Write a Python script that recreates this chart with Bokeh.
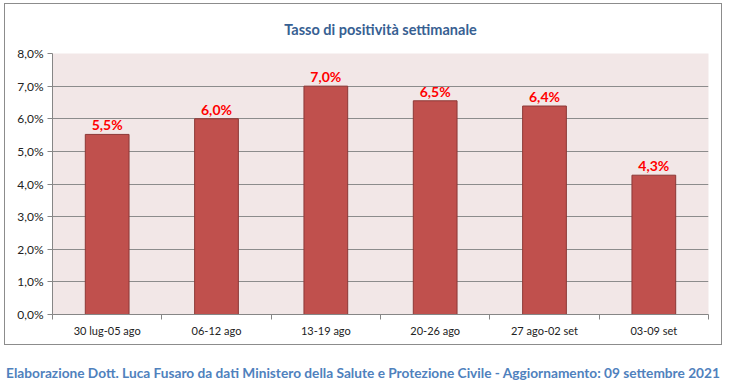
from bokeh.plotting import figure
from bokeh.models import (ColumnDataSource, FixedTicker, CustomJSTickFormatter,
                          Range1d, LabelSet, Div, Title)
from bokeh.layouts import column
from bokeh.core.properties import value
from bokeh.embed import file_html
from bokeh.resources import INLINE

categories = ["30 lug-05 ago", "06-12 ago", "13-19 ago", "20-26 ago", "27 ago-02 set", "03-09 set"]
values = [5.52, 6.0, 7.0, 6.55, 6.39, 4.27]
y_ticks = [0, 1, 2, 3, 4, 5, 6, 7, 8]
title_text = "Tasso di positività settimanale"
footer_text = ("Elaborazione Dott. Luca Fusaro da dati Ministero della Salute e Protezione Civile"
               " - Aggiornamento: 09 settembre 2021")

FONT = "Lato"
W, H = 718, 342

x_pos = [i + 0.5 for i in range(len(categories))]
labels = [("%.1f%%" % v).replace(".", ",") for v in values]
src = ColumnDataSource(dict(x=x_pos, top=values, label=labels))

p = figure(width=W, height=H, output_backend="svg", toolbar_location=None,
           x_range=Range1d(0, len(categories)), y_range=Range1d(0, 8),
           min_border_left=47, min_border_right=15, min_border_top=49, min_border_bottom=32,
           title=None)
p.margin = (3, 0, 0, 4)
p.styles = {"border": "1px solid #8C8C8C"}
p.border_fill_color = "white"
p.background_fill_color = "#F2E7E7"
p.outline_line_color = None

# spacer between frame and title (closest to the frame)
p.add_layout(Title(text=" ", text_font_size="2px", standoff=0), "above")
p.add_layout(Title(text=title_text, align="center", offset=-14, standoff=24,
                   text_font=FONT, text_font_style="bold", text_font_size="14.5px",
                   text_color="#376092"), "above")

p.vbar(x="x", top="top", width=0.4, source=src, fill_color="#C0504D",
       line_color="#8C3836", line_width=1)

p.add_layout(LabelSet(x="x", y="top", text="label", source=src, text_align="center",
                      text_baseline="bottom", y_offset=1, text_color="#FF0000",
                      text_font=value(FONT), text_font_style="bold",
                      text_font_size="14px"))

# y axis
p.yaxis.ticker = FixedTicker(ticks=y_ticks)
p.yaxis.formatter = CustomJSTickFormatter(code="return tick.toFixed(1).replace('.', ',') + '%';")
p.yaxis.axis_line_color = "#868686"
p.yaxis.major_tick_line_color = "#868686"
p.yaxis.major_tick_in = 0
p.yaxis.major_tick_out = 5
p.yaxis.minor_tick_line_color = None
p.yaxis.major_label_text_font = FONT
p.yaxis.major_label_text_font_size = "12px"
p.yaxis.major_label_text_color = "#222222"
p.yaxis.major_label_standoff = 4

# x axis: labels at centres, tick marks at boundaries
p.xaxis.ticker = FixedTicker(ticks=x_pos, minor_ticks=list(range(len(categories) + 1)))
p.xaxis.major_label_overrides = {x: c for x, c in zip(x_pos, categories)}
p.xaxis.major_tick_line_color = None
p.xaxis.minor_tick_line_color = "#868686"
p.xaxis.minor_tick_in = 0
p.xaxis.minor_tick_out = 5
p.xaxis.axis_line_color = "#868686"
p.xaxis.major_label_text_font = FONT
p.xaxis.major_label_text_font_size = "11px"
p.xaxis.major_label_text_color = "#222222"
p.xaxis.major_label_standoff = 3

p.xgrid.grid_line_color = None
p.ygrid.ticker = FixedTicker(ticks=y_ticks)
p.ygrid.grid_line_color = "#8C8C8C"
p.ygrid.grid_line_width = 1

footer = Div(text=footer_text, width=718, height=36,
             styles={"font-family": FONT, "font-weight": "bold", "font-size": "13.7px",
                     "color": "#4F81BD", "text-align": "center", "padding-top": "18px",
                     "box-sizing": "border-box", "white-space": "nowrap"})
footer.margin = (0, 0, 0, 4)

layout = column(p, footer, spacing=0)
open("out.html", "w").write(file_html(layout, INLINE))
